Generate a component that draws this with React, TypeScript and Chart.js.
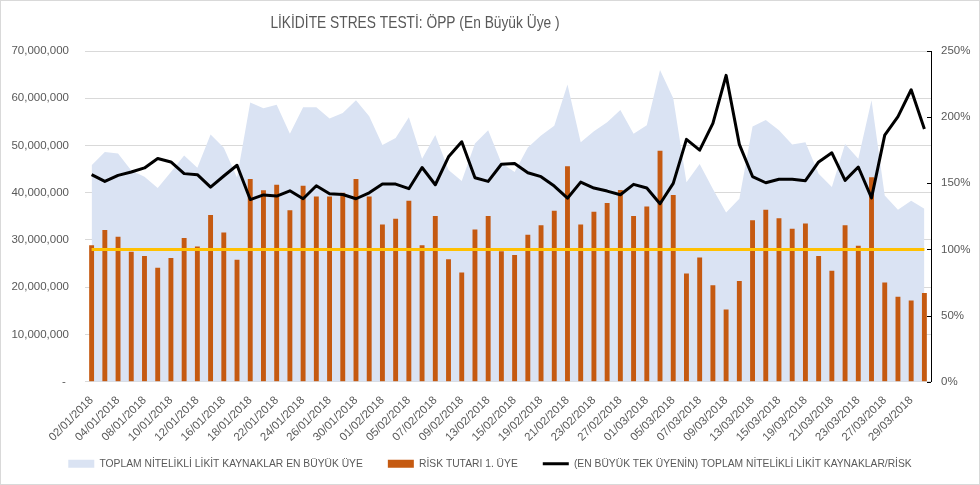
import { useEffect, useRef } from 'react';
import { Chart, registerables } from 'chart.js';

Chart.register(...registerables);

const TITLE = 'LİKİDİTE STRES TESTİ: ÖPP (En Büyük Üye )';

const DATES = [
  '02/01/2018', '03/01/2018', '04/01/2018', '05/01/2018', '08/01/2018', '09/01/2018', '10/01/2018', '11/01/2018',
  '12/01/2018', '15/01/2018', '16/01/2018', '17/01/2018', '18/01/2018', '19/01/2018', '22/01/2018', '23/01/2018',
  '24/01/2018', '25/01/2018', '26/01/2018', '29/01/2018', '30/01/2018', '31/01/2018',
  '01/02/2018', '02/02/2018', '05/02/2018', '06/02/2018', '07/02/2018', '08/02/2018', '09/02/2018', '12/02/2018',
  '13/02/2018', '14/02/2018', '15/02/2018', '16/02/2018', '19/02/2018', '20/02/2018', '21/02/2018', '22/02/2018',
  '23/02/2018', '26/02/2018', '27/02/2018', '28/02/2018',
  '01/03/2018', '02/03/2018', '05/03/2018', '06/03/2018', '07/03/2018', '08/03/2018', '09/03/2018', '12/03/2018',
  '13/03/2018', '14/03/2018', '15/03/2018', '16/03/2018', '19/03/2018', '20/03/2018', '21/03/2018', '22/03/2018',
  '23/03/2018', '26/03/2018', '27/03/2018', '28/03/2018', '29/03/2018', '30/03/2018',
];

// TOPLAM NİTELİKLİ LİKİT KAYNAKLAR EN BÜYÜK ÜYE (TL)
const LIQUID = [
  45800000, 48600000, 48300000, 44700000, 43400000, 41000000, 44400000, 47900000,
  45300000, 52300000, 49500000, 43200000, 59100000, 57900000, 58600000, 52500000,
  58100000, 58100000, 55700000, 56900000, 59600000, 56200000,
  50100000, 51600000, 56000000, 47200000, 52200000, 44800000, 42500000, 50400000,
  53200000, 46300000, 44400000, 49600000, 52100000, 54200000, 62900000, 50700000,
  53000000, 54900000, 57500000, 52500000,
  54300000, 66000000, 60000000, 42200000, 46100000, 40800000, 35800000, 38700000,
  54000000, 55400000, 53200000, 50200000, 50700000, 44000000, 41200000, 50300000,
  47200000, 59600000, 39400000, 36400000, 38300000, 36600000,
];

// RİSK TUTARI 1. ÜYE (TL)
const RISK = [
  28900000, 32100000, 30700000, 27500000, 26600000, 24100000, 26200000, 30400000,
  28600000, 35300000, 31600000, 25800000, 42900000, 40500000, 41700000, 36300000,
  41500000, 39200000, 39200000, 40000000, 42900000, 39200000,
  33300000, 34500000, 38300000, 28900000, 35100000, 25900000, 23100000, 32200000,
  35100000, 27600000, 26800000, 31100000, 33100000, 36200000, 45600000, 33300000,
  36000000, 37800000, 40600000, 35100000,
  37100000, 48900000, 39500000, 22900000, 26300000, 20400000, 15300000, 21300000,
  34200000, 36400000, 34600000, 32400000, 33500000, 26600000, 23500000, 33100000,
  28800000, 43300000, 21000000, 18000000, 17200000, 18800000,
];

// (EN BÜYÜK TEK ÜYENİN) TOPLAM NİTELİKLİ LİKİT KAYNAKLAR/RİSK (%)
const RATIO = [
  156.5, 151.4, 156.0, 158.5, 161.6, 168.7, 166.1, 157.3,
  156.5, 147.1, 155.5, 163.6, 137.7, 141.2, 140.3, 144.3,
  138.3, 148.1, 142.1, 141.5, 138.3, 142.8,
  149.4, 149.4, 145.9, 161.9, 148.9, 170.0, 181.4, 154.2,
  151.4, 164.4, 164.9, 158.0, 155.0, 147.9, 138.7, 150.9,
  146.4, 144.1, 141.3, 149.2,
  146.4, 134.5, 149.9, 183.2, 175.0, 195.3, 231.6, 179.4,
  155.1, 150.4, 153.0, 153.0, 152.0, 166.1, 173.0, 152.2,
  162.3, 139.0, 186.4, 200.4, 220.7, 191.0,
];

// Eşik çizgisi (%100)
const THRESHOLD = 100;

const LEGEND_LABELS = [
  'TOPLAM NİTELİKLİ LİKİT KAYNAKLAR EN BÜYÜK ÜYE',
  'RİSK TUTARI 1. ÜYE',
  '(EN BÜYÜK TEK ÜYENİN) TOPLAM NİTELİKLİ LİKİT KAYNAKLAR/RİSK',
];

const LEFT_MAX = 70000000;
const LEFT_STEP = 10000000;
const RIGHT_MAX = 250;
const RIGHT_STEP = 50;

const AREA_COLOR = '#dae3f3';
const BAR_COLOR = '#c55a11';
const LINE_COLOR = '#000000';
const THRESHOLD_COLOR = '#ffc000';
const TEXT_COLOR = '#595959';
const SANS = '"Liberation Sans", Arial, sans-serif';

const decor = {
  id: 'decor',
  afterLayout(chart: any) {
    // let the rotated date labels extend below the x-axis box without clipping
    const x = chart.scales.x;
    if (x) x.bottom = chart.height;
  },
  beforeDraw(chart: any) {
    const { ctx, width, height } = chart;
    ctx.save();
    ctx.fillStyle = '#ffffff';
    ctx.fillRect(0, 0, width, height);
    ctx.restore();
  },
  afterDraw(chart: any) {
    const { ctx, width, height } = chart;
    ctx.save();
    ctx.strokeStyle = '#d9d9d9';
    ctx.lineWidth = 1;
    ctx.strokeRect(0.5, 0.5, width - 1, height - 1);

    // inward tick marks on the right axis
    const s = chart.scales.y1;
    ctx.strokeStyle = '#000000';
    ctx.lineWidth = 1;
    ctx.beginPath();
    s.ticks.forEach((t: any) => {
      const y = Math.round(s.getPixelForValue(t.value)) + 0.5;
      ctx.moveTo(s.left - 4, y);
      ctx.lineTo(s.left, y);
    });
    ctx.stroke();

    ctx.fillStyle = TEXT_COLOR;
    ctx.font = `17px ${SANS}`;
    ctx.textAlign = 'center';
    ctx.textBaseline = 'alphabetic';
    ctx.translate(415, 28);
    ctx.scale(0.81, 1);
    ctx.fillText(TITLE, 0, 0);
    ctx.restore();
  },
};

export default function App() {
  const ref = useRef<HTMLCanvasElement | null>(null);

  useEffect(() => {
    if (!ref.current) return;
    const chart = new Chart(ref.current, {
      type: 'bar',
      data: {
        labels: DATES,
        datasets: [
          {
            type: 'line',
            label: LEGEND_LABELS[0],
            data: LIQUID,
            yAxisID: 'y',
            fill: 'origin',
            backgroundColor: AREA_COLOR,
            borderWidth: 0,
            pointRadius: 0,
            tension: 0,
            order: 4,
          },
          {
            type: 'bar',
            label: LEGEND_LABELS[1],
            data: RISK,
            yAxisID: 'y',
            backgroundColor: BAR_COLOR,
            borderWidth: 0,
            barPercentage: 0.37,
            categoryPercentage: 1,
            order: 3,
          },
          {
            type: 'line',
            label: 'Eşik',
            data: DATES.map(() => THRESHOLD),
            yAxisID: 'y1',
            borderColor: THRESHOLD_COLOR,
            borderWidth: 3,
            pointRadius: 0,
            fill: false,
            order: 2,
          },
          {
            type: 'line',
            label: LEGEND_LABELS[2],
            data: RATIO,
            yAxisID: 'y1',
            borderColor: LINE_COLOR,
            borderWidth: 3,
            pointRadius: 0,
            fill: false,
            tension: 0,
            borderJoinStyle: 'round',
            order: 1,
          },
        ],
      },
      options: {
        responsive: false,
        animation: false,
        events: [],
        layout: { padding: { top: 51, bottom: 6, left: 0, right: 0 } },
        plugins: {
          title: { display: false },
          tooltip: { enabled: false },
          legend: {
            position: 'bottom',
            labels: {
              usePointStyle: true,
              pointStyleWidth: 26,
              boxHeight: 8,
              padding: 25,
              color: TEXT_COLOR,
              font: { size: 10.3, family: SANS },
              generateLabels: () => [
                { text: LEGEND_LABELS[0], fillStyle: AREA_COLOR, strokeStyle: AREA_COLOR, lineWidth: 0, pointStyle: 'rect', hidden: false, datasetIndex: 0, fontColor: TEXT_COLOR },
                { text: LEGEND_LABELS[1], fillStyle: BAR_COLOR, strokeStyle: BAR_COLOR, lineWidth: 0, pointStyle: 'rect', hidden: false, datasetIndex: 1, fontColor: TEXT_COLOR },
                { text: LEGEND_LABELS[2], fillStyle: LINE_COLOR, strokeStyle: LINE_COLOR, lineWidth: 3, pointStyle: 'line', hidden: false, datasetIndex: 3, fontColor: TEXT_COLOR },
              ],
            },
          },
        },
        scales: {
          x: {
            grid: { display: false },
            border: { display: false },
            ticks: {
              autoSkip: false,
              minRotation: 45,
              maxRotation: 45,
              padding: 4,
              color: TEXT_COLOR,
              font: { size: 11.5, family: SANS },
              callback: (_v: any, i: number) => (i % 2 === 0 ? DATES[i] : ''),
            },
            afterFit: (s: any) => { s.height = 52; },
          },
          y: {
            position: 'left',
            min: 0,
            max: LEFT_MAX,
            border: { display: false },
            grid: { color: '#d9d9d9', drawTicks: false },
            ticks: {
              stepSize: LEFT_STEP,
              padding: 16,
              color: TEXT_COLOR,
              font: { size: 11.5, family: SANS },
              callback: (v: any) => (Number(v) === 0 ? '- ' : Number(v).toLocaleString('en-US')),
            },
            afterFit: (s: any) => { s.width = 85; },
          },
          y1: {
            position: 'right',
            min: 0,
            max: RIGHT_MAX,
            border: { display: true, color: '#000000', width: 1 },
            grid: { drawOnChartArea: false, drawTicks: false },
            ticks: {
              stepSize: RIGHT_STEP,
              padding: 10,
              color: TEXT_COLOR,
              font: { size: 11.5, family: SANS },
              callback: (v: any) => `${v}%`,
            },
            afterFit: (s: any) => { s.width = 49; },
          },
        },
      },
      plugins: [decor],
    } as any);
    return () => chart.destroy();
  }, []);

  return (
    <div style={{ position: 'absolute', left: 0, top: 0, width: 980, height: 485 }}>
      <canvas ref={ref} width={980} height={485} style={{ display: 'block', width: 980, height: 485 }} />
    </div>
  );
}
